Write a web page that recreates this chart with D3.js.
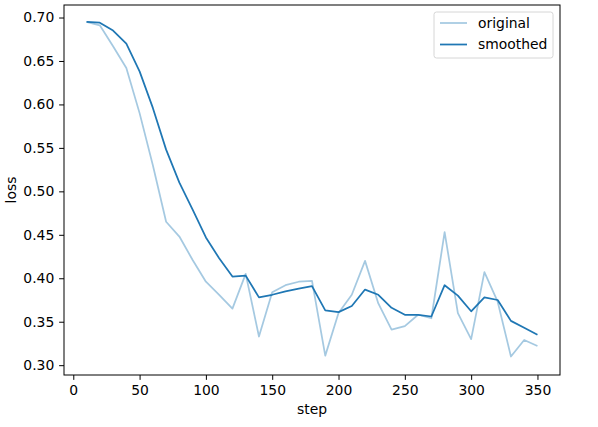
<!DOCTYPE html>
<html>
<head>
<meta charset="utf-8">
<script src="https://cdn.jsdelivr.net/npm/d3@7"></script>
<style>
body{margin:0;background:#fff;}
text{font-family:"DejaVu Sans",sans-serif;}
</style>
</head>
<body>
<script>
var steps=[10,20,30,40,50,60,70,80,90,100,110,120,130,140,150,160,170,180,190,200,
           210,220,230,240,250,260,270,280,290,300,310,320,330,340,350];
var original=[0.695,0.691,0.667,0.642,0.590,0.530,0.465,0.448,0.421,0.396,
              0.381,0.365,0.405,0.333,0.384,0.392,0.396,0.397,0.311,0.360,
              0.381,0.420,0.371,0.341,0.345,0.358,0.354,0.453,0.360,0.330,
              0.407,0.373,0.310,0.329,0.322];
var smoothed=[0.695,0.694,0.685,0.670,0.638,0.596,0.548,0.510,0.479,0.447,
              0.423,0.402,0.403,0.378,0.381,0.385,0.388,0.391,0.363,0.361,
              0.368,0.387,0.381,0.366,0.358,0.358,0.356,0.392,0.380,0.362,
              0.378,0.375,0.351,0.343,0.335];
var xTicks=[0,50,100,150,200,250,300,350];
var yTicks=[0.30,0.35,0.40,0.45,0.50,0.55,0.60,0.65,0.70];
var seriesNames=["original","smoothed"];

var W=598,H=427;
var pL=64,pR=560,pT=5,pB=375;
var fs=13.9,tick=4.86,lw=1.75;

var svg=d3.select("body").append("svg")
	.attr("width",W).attr("height",H);

var x=d3.scaleLinear().domain([-7,367]).range([pL,pR]);
var y=d3.scaleLinear().domain([0.2887,0.7144]).range([pB,pT]);

var line=d3.line()
	.x(function(d,i){return x(steps[i]);})
	.y(function(d){return y(d);});

svg.append("path")
	.attr("fill","none")
	.attr("stroke","#1f77b4")
	.attr("stroke-opacity",0.4)
	.attr("stroke-width",lw)
	.attr("stroke-linejoin","round")
	.attr("d",line(original));

svg.append("path")
	.attr("fill","none")
	.attr("stroke","#1f77b4")
	.attr("stroke-width",lw)
	.attr("stroke-linejoin","round")
	.attr("d",line(smoothed));

// axes
var gx=svg.append("g").attr("transform","translate(0,"+pB+")")
	.call(d3.axisBottom(x).tickValues(xTicks).tickSize(tick).tickPadding(tick).tickFormat(d3.format("d")));
var gy=svg.append("g").attr("transform","translate("+pL+",0)")
	.call(d3.axisLeft(y).tickValues(yTicks).tickSize(tick).tickPadding(tick).tickFormat(d3.format(".2f")));
[gx,gy].forEach(function(g){
	g.select(".domain").remove();
	g.selectAll("line").attr("stroke","#000").attr("stroke-width",1);
	g.selectAll("text").attr("font-size",fs).attr("fill","#000").attr("font-family","DejaVu Sans");
});

svg.append("rect")
	.attr("x",pL).attr("y",pT)
	.attr("width",pR-pL).attr("height",pB-pT)
	.attr("fill","none").attr("stroke","#000").attr("stroke-width",1);

svg.append("text")
	.attr("x",(pL+pR)/2).attr("y",414)
	.attr("text-anchor","middle").attr("font-size",fs)
	.text("step");
svg.append("text")
	.attr("transform","translate(16,"+((pT+pB)/2)+") rotate(-90)")
	.attr("text-anchor","middle").attr("font-size",fs)
	.text("loss");

// legend
var lg=svg.append("g");
lg.append("rect")
	.attr("x",434).attr("y",12).attr("width",119).attr("height",46)
	.attr("rx",2.5).attr("fill","#fff").attr("fill-opacity",0.8)
	.attr("stroke","#cccccc").attr("stroke-width",0.8);
seriesNames.forEach(function(n,i){
	var yy=23+i*21.5;
	lg.append("line")
		.attr("x1",440).attr("x2",467).attr("y1",yy).attr("y2",yy)
		.attr("stroke","#1f77b4").attr("stroke-width",lw)
		.attr("stroke-opacity",i==0?0.4:1);
	lg.append("text")
		.attr("x",478).attr("y",yy+4.8)
		.attr("font-size",fs).text(n);
});
</script>
</body>
</html>
